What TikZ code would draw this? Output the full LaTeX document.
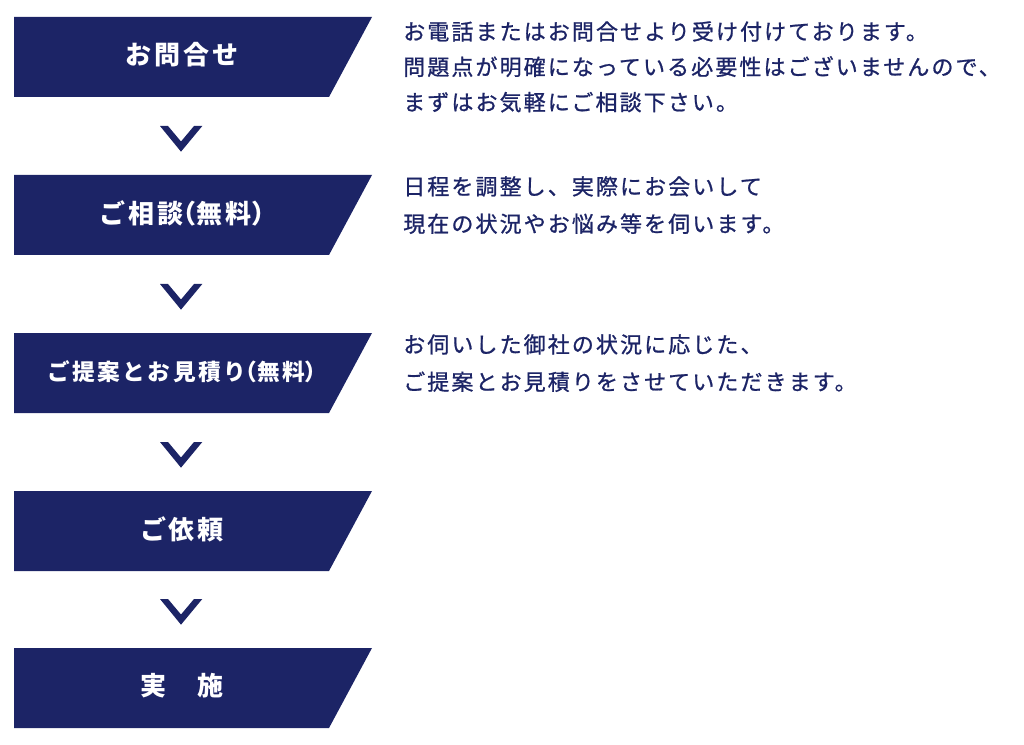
\documentclass[tikz,border=0pt]{standalone}
\usepackage{fontspec}
\newfontfamily\cjk[LetterSpace=10.5]{Noto Sans CJK JP}
\newfontfamily\cjkdesc[LetterSpace=9.5,FakeBold=0.9]{Noto Sans CJK JP}
\newcommand{\hw}[1]{{\addfontfeature{RawFeature=+halt}#1}}
\definecolor{navy}{RGB}{28,36,102}

\begin{document}
\begin{tikzpicture}[x=0.75pt,y=0.75pt,yscale=-1,xscale=1,
  stepbox/.style={fill=navy,draw=none},
  steptext/.style={inner sep=0pt,text=white,font=\cjk\bfseries\fontsize{19.5pt}{24pt}\selectfont},
  smallstep/.style={steptext,font=\cjk\bfseries\fontsize{17pt}{20pt}\selectfont},
  chevron/.style={fill=navy,draw=none},
  desc/.style={anchor=north west,inner sep=0pt,align=left,text=navy,font=\cjkdesc\fontsize{16.5pt}{28pt}\selectfont}]
\useasboundingbox (0,0) rectangle (1024,745);

%Shape: Step box 1
\draw [stepbox] (14,17) -- (372,17) -- (329,97) -- (14,97) -- cycle ;
%Shape: Step box 2
\draw [stepbox] (14,175) -- (372,175) -- (329,255) -- (14,255) -- cycle ;
%Shape: Step box 3
\draw [stepbox] (14,333) -- (372,333) -- (329,413) -- (14,413) -- cycle ;
%Shape: Step box 4
\draw [stepbox] (14,491) -- (372,491) -- (329,571) -- (14,571) -- cycle ;
%Shape: Step box 5
\draw [stepbox] (14,648) -- (372,648) -- (329,728) -- (14,728) -- cycle ;

%Shape: Chevron 1
\draw [chevron] (160,126) -- (181,151.7) -- (202.3,126) -- (194,126) -- (181,141.5) -- (168,126) -- cycle ;
%Shape: Chevron 2
\draw [chevron] (160,284) -- (181,309.7) -- (202.3,284) -- (194,284) -- (181,299.5) -- (168,284) -- cycle ;
%Shape: Chevron 3
\draw [chevron] (160,442) -- (181,467.7) -- (202.3,442) -- (194,442) -- (181,457.5) -- (168,442) -- cycle ;
%Shape: Chevron 4
\draw [chevron] (160,599) -- (181,624.7) -- (202.3,599) -- (194,599) -- (181,614.5) -- (168,599) -- cycle ;

% Text Node
\node [steptext] (ask) at (182,55) {お問合せ};
% Text Node
\node [steptext] (consult) at (182,213) {ご相談\hw{（}無料\hw{）}};
% Text Node
\node [smallstep] (proposal) at (182,372) {ご提案とお見積り\hw{（}無料\hw{）}};
% Text Node
\node [steptext] (request) at (182,529) {ご依頼};
% Text Node
\node [steptext] (execute) at (182,686) {実　施};

% Text Node
\node [desc,font=\cjkdesc\fontsize{16.5pt}{26.5pt}\selectfont] (askinfo) at (403,21) {お電話またはお問合せより受け付けております。\\問題点が明確になっている必要性はございませんので、\\まずはお気軽にご相談下さい。};
% Text Node
\node [desc] (consultinfo) at (403,176) {日程を調整し、実際にお会いして\\現在の状況やお悩み等を伺います。};
% Text Node
\node [desc] (proposalinfo) at (403,334) {お伺いした御社の状況に応じた、\\ご提案とお見積りをさせていただきます。};

\end{tikzpicture}
\end{document}
